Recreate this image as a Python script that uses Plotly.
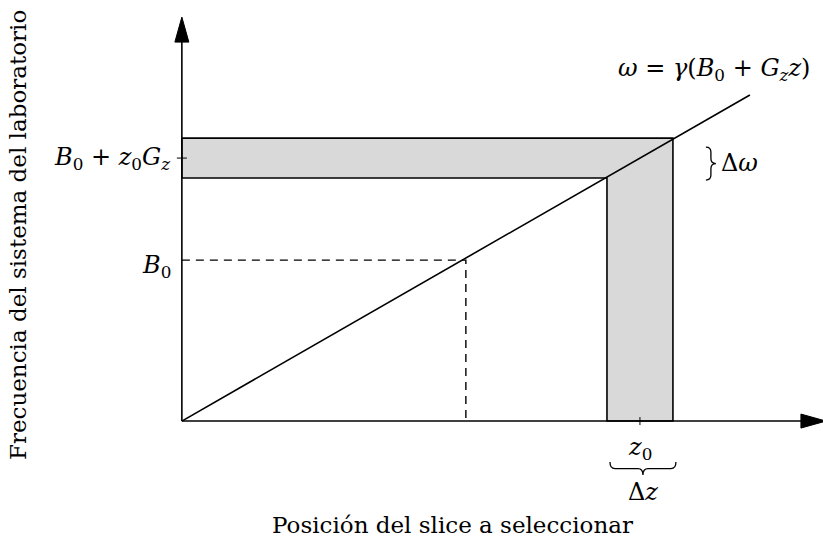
import plotly.graph_objects as go

# Schematic: slice selection with a gradient field (normalised units, z0 = 1, omega(z0) = 1)
z_line = [0.0, 1.24]          # position along the selection axis
omega_line = [0.0, 1.24]      # omega = gamma (B0 + Gz z), drawn with unit slope
z0 = 1.0                      # slice centre
dz = 0.144                    # slice thickness
omega0 = 1.0                  # frequency at slice centre
domega = 0.152                # frequency bandwidth
b0_level = 0.612              # B0 reference level
z_b0 = 0.62                   # position where the line reaches B0
x_axis_end = 1.406
y_axis_end = 1.536

tick_labels = {
    "omega0": "<i>B</i><sub>0</sub> + <i>z</i><sub>0</sub><i>G<sub>z</sub></i>",
    "b0": "<i>B</i><sub>0</sub>",
    "z0": "<i>z</i><sub>0</sub>",
    "dz": "Δ<i>z</i>",
    "domega": "Δ<i>ω</i>",
    "eq": "<i>ω</i> = <i>γ</i>(<i>B</i><sub>0</sub> + <i>G<sub>z</sub>z</i>)",
}
x_title = "Posición del slice a seleccionar"
y_title = "Frecuencia del sistema del laboratorio"

W, H = 823, 546
XR = [-0.397, 1.3996]
YR = [-0.475, 1.601]
sx = W / (XR[1] - XR[0])   # pixels per x unit
sy = H / (YR[1] - YR[0])   # pixels per y unit

FONT = "DejaVu Serif"
GRAY = "#d9d9d9"
LW = 1.6

fig = go.Figure()

z_lo, z_hi = z0 - dz / 2, z0 + dz / 2
w_lo, w_hi = omega0 - domega / 2, omega0 + domega / 2

# grey bands (horizontal frequency band + vertical slice band)
fig.add_trace(go.Scatter(
    x=[0, z_hi, z_hi, z_lo, z_lo, 0, 0],
    y=[w_hi, w_hi, 0, 0, w_lo, w_lo, w_hi],
    fill="toself", fillcolor=GRAY, mode="lines",
    line=dict(color="black", width=LW), hoverinfo="skip"))

# axes
fig.add_trace(go.Scatter(x=[0, x_axis_end - 20 / sx], y=[0, 0], mode="lines",
                         line=dict(color="black", width=LW), hoverinfo="skip"))
fig.add_trace(go.Scatter(x=[0, 0], y=[0, y_axis_end - 20 / sy], mode="lines",
                         line=dict(color="black", width=LW), hoverinfo="skip"))
# arrow heads
ah_len, ah_half = 25, 7
fig.add_trace(go.Scatter(
    x=[x_axis_end, x_axis_end - ah_len / sx, x_axis_end - ah_len / sx, x_axis_end],
    y=[0, ah_half / sy, -ah_half / sy, 0],
    fill="toself", fillcolor="black", mode="lines",
    line=dict(color="black", width=1), hoverinfo="skip"))
fig.add_trace(go.Scatter(
    x=[0, ah_half / sx, -ah_half / sx, 0],
    y=[y_axis_end, y_axis_end - ah_len / sy, y_axis_end - ah_len / sy, y_axis_end],
    fill="toself", fillcolor="black", mode="lines",
    line=dict(color="black", width=1), hoverinfo="skip"))

# dashed guide to B0
fig.add_trace(go.Scatter(x=[0, z_b0, z_b0], y=[b0_level, b0_level, 0], mode="lines",
                         line=dict(color="black", width=LW - 0.2, dash="8px,6px"),
                         hoverinfo="skip"))

# Larmor line
fig.add_trace(go.Scatter(x=z_line, y=omega_line, mode="lines",
                         line=dict(color="black", width=LW), hoverinfo="skip"))

# ticks
fig.add_trace(go.Scatter(x=[-5 / sx, 5 / sx], y=[omega0, omega0], mode="lines",
                         line=dict(color="black", width=1), hoverinfo="skip"))
fig.add_trace(go.Scatter(x=[z0, z0], y=[-4 / sy, 4 / sy], mode="lines",
                         line=dict(color="black", width=1), hoverinfo="skip"))


def hbrace(xa, xb, ytop, depth):
    """Downward-pointing curly brace between xa and xb."""
    xc = (xa + xb) / 2
    d = depth / sy
    e = 5 / sx
    ym = ytop - d / 2
    yt = ytop - d
    return (f"M {xa},{ytop} Q {xa},{ym} {xa + e},{ym} L {xc - e},{ym} "
            f"Q {xc},{ym} {xc},{yt} Q {xc},{ym} {xc + e},{ym} "
            f"L {xb - e},{ym} Q {xb},{ym} {xb},{ytop}")


def vbrace(ytop, ybot, xleft, depth):
    """Right-pointing curly brace from ytop down to ybot."""
    yc = (ytop + ybot) / 2
    d = depth / sx
    e = 5 / sy
    xm = xleft + d / 2
    xt = xleft + d
    return (f"M {xleft},{ytop} Q {xm},{ytop} {xm},{ytop - e} L {xm},{yc + e} "
            f"Q {xm},{yc} {xt},{yc} Q {xm},{yc} {xm},{yc - e} "
            f"L {xm},{ybot + e} Q {xm},{ybot} {xleft},{ybot}")


brace_y = -41 / sy
fig.add_shape(type="path", path=hbrace(z_lo + 3 / sx, z_hi + 3 / sx, brace_y, 13),
              xref="x", yref="y", line=dict(color="black", width=1.3))
fig.add_shape(type="path", path=vbrace(omega0 + 11 / sy, omega0 - 22 / sy, 1.144, 10),
              xref="x", yref="y", line=dict(color="black", width=1.3))

ann = dict(showarrow=False, font=dict(family=FONT, size=24, color="black"))
fig.add_annotation(x=0, y=omega0, xanchor="right", xshift=-10, yshift=0,
                   text=tick_labels["omega0"], **ann)
fig.add_annotation(x=0, y=b0_level, xanchor="right", xshift=-9, yshift=-6,
                   text=tick_labels["b0"], **ann)
fig.add_annotation(x=z0, y=0, yanchor="middle", yshift=-27,
                   text=tick_labels["z0"], **ann)
fig.add_annotation(x=z0 + 3 / sx, y=0, yanchor="middle", yshift=-71,
                   text=tick_labels["dz"], **ann)
fig.add_annotation(x=1.172, y=omega0, xanchor="left", yshift=-5,
                   text=tick_labels["domega"], **ann)
fig.add_annotation(x=1.376, y=1.335, xanchor="right",
                   text=tick_labels["eq"], **ann)

title_font = dict(family=FONT, size=23, color="black")
fig.add_annotation(x=452 / W, y=1 - 525 / H, xref="paper", yref="paper",
                   xanchor="center", yanchor="middle", showarrow=False,
                   text=x_title, font=title_font)
fig.add_annotation(x=18 / W, y=1 - 235 / H, xref="paper", yref="paper",
                   xanchor="center", yanchor="middle", showarrow=False,
                   text=y_title, textangle=-90, font=title_font)

fig.update_layout(
    width=W, height=H, margin=dict(l=0, r=0, t=0, b=0),
    paper_bgcolor="white", plot_bgcolor="white", showlegend=False,
    xaxis=dict(range=XR, visible=False, fixedrange=True),
    yaxis=dict(range=YR, visible=False, fixedrange=True),
)

fig.write_html("out.html")
